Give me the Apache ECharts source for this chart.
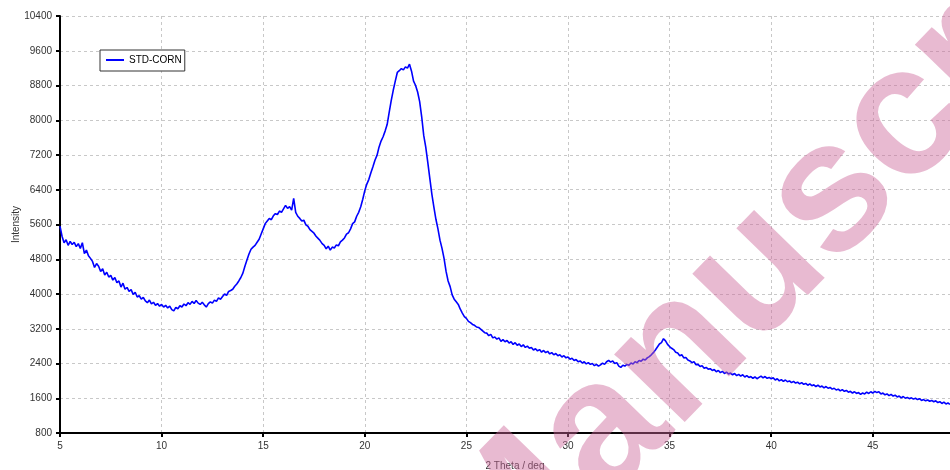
<!DOCTYPE html>
<html>
<head>
<meta charset="utf-8">
<style>
  html, body { margin: 0; padding: 0; background: #fff; }
  #chart { width: 950px; height: 470px; }
</style>
<script src="https://cdn.jsdelivr.net/npm/echarts@6.0.0/dist/echarts.min.js"></script>
</head>
<body>
<div id="chart"></div>
<script>
// data
const seriesName = 'STD-CORN';
const thetaStart = 5.0;
const thetaStep = 0.1;
// intensity, one row per degree (5.0 .. 48.8, step 0.1)
const intensity = [
  5560, 5330, 5180, 5250, 5120, 5210, 5140, 5190, 5090, 5160, // 5
  5050, 5180, 4930, 5010, 4880, 4820, 4750, 4610, 4700, 4640, // 6
  4520, 4580, 4440, 4500, 4390, 4430, 4320, 4380, 4260, 4300, // 7
  4160, 4250, 4110, 4150, 4060, 4100, 3990, 4040, 3930, 3960, // 8
  3880, 3920, 3840, 3800, 3860, 3770, 3810, 3740, 3780, 3720, // 9
  3760, 3700, 3740, 3680, 3720, 3640, 3610, 3690, 3660, 3730, // 10
  3700, 3770, 3730, 3800, 3760, 3830, 3780, 3850, 3790, 3760, // 11
  3810, 3750, 3700, 3780, 3820, 3790, 3860, 3830, 3910, 3880, // 12
  3940, 4000, 3970, 4060, 4080, 4110, 4180, 4230, 4300, 4380, // 13
  4480, 4640, 4780, 4920, 5030, 5080, 5120, 5190, 5260, 5380, // 14
  5500, 5620, 5680, 5740, 5710, 5800, 5850, 5830, 5910, 5880, // 15
  5960, 6040, 5970, 6010, 5930, 6200, 5880, 5790, 5740, 5680, // 16
  5700, 5590, 5560, 5480, 5440, 5400, 5330, 5280, 5230, 5160, // 17
  5120, 5040, 5100, 5010, 5080, 5060, 5130, 5110, 5200, 5240, // 18
  5290, 5380, 5410, 5500, 5620, 5660, 5790, 5880, 6010, 6180, // 19
  6380, 6530, 6640, 6790, 6930, 7080, 7190, 7380, 7520, 7620, // 20
  7750, 7900, 8180, 8450, 8690, 8900, 9100, 9140, 9190, 9160, // 21
  9230, 9200, 9290, 9130, 8900, 8800, 8650, 8430, 8080, 7650, // 22
  7380, 7030, 6660, 6300, 6000, 5720, 5500, 5240, 5050, 4820, // 23
  4520, 4300, 4170, 3980, 3880, 3820, 3760, 3650, 3560, 3480, // 24
  3440, 3370, 3340, 3300, 3280, 3240, 3230, 3190, 3150, 3110, // 25
  3100, 3040, 3070, 2990, 3010, 2960, 2990, 2910, 2950, 2900, // 26
  2930, 2870, 2900, 2840, 2880, 2820, 2850, 2790, 2830, 2770, // 27
  2800, 2750, 2770, 2710, 2740, 2690, 2720, 2660, 2700, 2650, // 28
  2680, 2620, 2650, 2600, 2630, 2580, 2600, 2550, 2580, 2530, // 29
  2550, 2500, 2520, 2470, 2490, 2440, 2460, 2410, 2440, 2390, // 30
  2420, 2380, 2400, 2350, 2380, 2340, 2370, 2410, 2380, 2440, // 31
  2470, 2430, 2460, 2400, 2420, 2340, 2310, 2360, 2340, 2380, // 32
  2360, 2410, 2390, 2440, 2420, 2470, 2450, 2500, 2480, 2530, // 33
  2560, 2600, 2650, 2710, 2780, 2850, 2880, 2970, 2920, 2840, // 34
  2790, 2750, 2720, 2660, 2640, 2580, 2600, 2530, 2540, 2480, // 35
  2460, 2420, 2440, 2370, 2380, 2330, 2350, 2290, 2310, 2270, // 36
  2280, 2240, 2260, 2210, 2240, 2190, 2220, 2170, 2200, 2160, // 37
  2180, 2140, 2170, 2120, 2150, 2110, 2140, 2090, 2120, 2080, // 38
  2100, 2060, 2090, 2050, 2080, 2110, 2070, 2100, 2060, 2080, // 39
  2050, 2070, 2020, 2050, 2000, 2030, 1990, 2020, 1980, 2000, // 40
  1960, 1990, 1950, 1970, 1930, 1960, 1920, 1940, 1900, 1930, // 41
  1890, 1910, 1870, 1900, 1860, 1880, 1840, 1870, 1830, 1850, // 42
  1810, 1830, 1790, 1810, 1770, 1800, 1760, 1780, 1740, 1760, // 43
  1720, 1750, 1710, 1730, 1690, 1720, 1700, 1740, 1710, 1750, // 44
  1720, 1760, 1730, 1750, 1700, 1720, 1680, 1700, 1660, 1690, // 45
  1650, 1670, 1630, 1650, 1610, 1640, 1600, 1620, 1590, 1610, // 46
  1580, 1600, 1570, 1590, 1550, 1570, 1540, 1560, 1530, 1550, // 47
  1520, 1540, 1500, 1520, 1480, 1510, 1470, 1490, 1460        // 48
];
const xMin = 5, xMax = 48.8, xStep = 5;
const yMin = 800, yMax = 10400, yStep = 800;
const watermark = 'Manuscript';

const fontFamily = '"Liberation Sans", Arial, sans-serif';
const points = intensity.map((v, i) => [+(thetaStart + i * thetaStep).toFixed(1), v]);

const chart = echarts.init(document.getElementById('chart'), null, { renderer: 'canvas' });

const gridLine = { show: true, lineStyle: { color: '#c8c8c8', type: [3, 3], width: 1 } };
const axisLine = { show: true, onZero: false, lineStyle: { color: '#000', width: 2 } };
const axisTick = { show: true, length: 4, lineStyle: { color: '#000', width: 2 } };

chart.setOption({
  animation: false,
  backgroundColor: '#fff',
  grid: { left: 60, right: 0, top: 16, bottom: 37, containLabel: false, outerBoundsMode: 'none' },
  legend: {
    data: [{ name: seriesName, icon: 'rect' }],
    left: 100,
    top: 50,
    padding: [5, 3, 6, 6],
    itemWidth: 18,
    itemHeight: 2,
    borderColor: '#333',
    borderWidth: 1,
    backgroundColor: '#fff',
    textStyle: { fontSize: 10, color: '#000', fontFamily }
  },
  xAxis: {
    type: 'value',
    min: xMin,
    max: xMax,
    interval: xStep,
    name: '2 Theta / deg',
    nameLocation: 'middle',
    nameGap: 28,
    nameMoveOverlap: false,
    nameTextStyle: { fontSize: 10, color: '#333', fontFamily, padding: [0, 0, 0, 20] },
    axisLine,
    axisTick,
    axisLabel: { fontSize: 10, color: '#333', fontFamily, showMaxLabel: false },
    splitLine: gridLine
  },
  yAxis: {
    type: 'value',
    min: yMin,
    max: yMax,
    interval: yStep,
    name: 'Intensity',
    nameLocation: 'middle',
    nameGap: 39,
    nameMoveOverlap: false,
    nameTextStyle: { fontSize: 10, color: '#333', fontFamily },
    axisLine,
    axisTick,
    axisLabel: { fontSize: 10, color: '#333', fontFamily, formatter: (v) => String(v) },
    splitLine: gridLine
  },
  series: [{
    name: seriesName,
    type: 'line',
    data: points,
    showSymbol: false,
    symbol: 'none',
    color: '#0000ff',
    lineStyle: { color: '#0000ff', width: 1.6 },
    z: 3
  }],
  graphic: [{
    type: 'text',
    x: 460,
    y: 580,
    rotation: 0.80,
    z: 100,
    silent: true,
    style: {
      text: watermark,
      fontSize: 185,
      fontWeight: 'bold',
      fontFamily,
      fill: 'rgba(204, 102, 153, 0.45)',
      align: 'left',
      verticalAlign: 'middle'
    }
  }]
});
</script>
</body>
</html>
